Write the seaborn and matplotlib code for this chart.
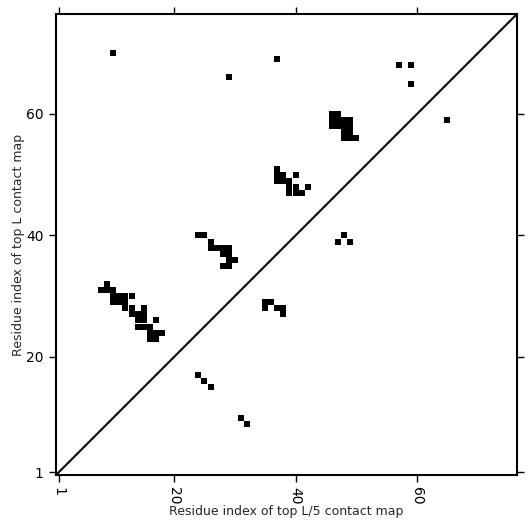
import numpy as np
import pandas as pd
import matplotlib
matplotlib.use("Agg")
import matplotlib.pyplot as plt
import seaborn as sns

L = 76
tick_vals = [1, 20, 40, 60]

# contact positions (x = residue i, y = residue j)
x_pts = [10, 29, 37, 57, 59, 59, 65,
         46, 47, 46, 47, 48, 49, 46, 47, 48, 49, 48, 49, 48, 49, 50,
         37, 37, 38, 40, 37, 38, 39, 39, 40, 42, 39, 40, 41,
         24, 25, 26, 26, 27, 28, 29, 28, 29, 29, 30, 28, 29,
         35, 36, 35, 37, 38, 38,
         24, 25, 26, 31, 32,
         47, 48, 49,
         9, 8, 9, 10, 10, 11, 12, 13, 10, 11, 12, 12, 13, 15,
         13, 14, 15, 14, 15, 17, 14, 15, 16, 16, 17, 18, 16, 17]
y_pts = [70, 66, 69, 68, 68, 65, 59,
         60, 60, 59, 59, 59, 59, 58, 58, 58, 58, 57, 57, 56, 56, 56,
         51, 50, 50, 50, 49, 49, 49, 48, 48, 48, 47, 47, 47,
         40, 40, 39, 38, 38, 38, 38, 37, 37, 36, 36, 35, 35,
         29, 29, 28, 28, 28, 27,
         17, 16, 15, 10, 9,
         39, 40, 39,
         32, 31, 31, 31, 30, 30, 30, 30, 29, 29, 29, 28, 28, 28,
         27, 27, 27, 26, 26, 26, 25, 25, 25, 24, 24, 24, 23, 23]

df = pd.DataFrame({"x": x_pts, "y": y_pts})

sns.set_style("white")
plt.rcParams["font.family"] = ["DejaVu Sans"]

fig = plt.figure(figsize=(5.31, 5.31), dpi=100)
ax = fig.add_axes([0.1047, 0.1047, 0.8695, 0.8695])

lo, hi = 0.5, L + 0.5
ax.set_xlim(lo, hi)
ax.set_ylim(lo, hi)

# square markers one residue wide
side_pt = 0.8695 * 5.31 * 72 / L
sns.scatterplot(data=df, x="x", y="y", marker="s", s=side_pt ** 2,
                color="black", linewidth=0, ax=ax, legend=False)

ax.plot([lo, hi], [lo, hi], color="black", linewidth=1.5)

for sp in ax.spines.values():
    sp.set_visible(True)
    sp.set_color("black")
    sp.set_linewidth(1.5)

ax.set_xticks(tick_vals)
ax.set_yticks(tick_vals)
ax.set_xticklabels([str(t) for t in tick_vals], rotation=270)
ax.set_yticklabels([str(t) for t in tick_vals])
ax.tick_params(axis="both", which="both", direction="out", length=5, width=1,
               top=True, right=True, bottom=True, left=True,
               labeltop=False, labelright=False, labelsize=10, colors="black")

ax.set_xlabel("Residue index of top L/5 contact map", fontsize=9, labelpad=0)
ax.set_ylabel("Residue index of top L contact map", fontsize=9, labelpad=1)

fig.savefig("out.png", dpi=100)
